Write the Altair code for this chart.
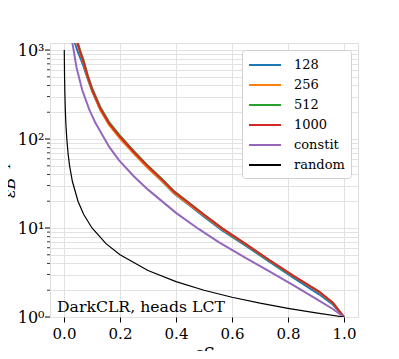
import altair as alt
import pandas as pd

series_order = ["128", "256", "512", "1000", "constit", "random"]
series_colors = ["#1f77b4", "#ff7f0e", "#2ca02c", "#d62728", "#9467bd", "#000000"]

eps_main = [0.035, 0.040, 0.048, 0.060, 0.068, 0.085, 0.101, 0.13, 0.161, 0.2, 0.25, 0.3,
            0.35, 0.393, 0.45, 0.5, 0.565, 0.65, 0.732, 0.82, 0.911, 0.96, 1.0]
rej_128 = [1500, 1170, 980, 790, 680, 470, 340, 212, 146, 103, 69, 47.5,
           33.5, 24.5, 17.8, 13.4, 9.4, 6.3, 4.2, 2.75, 1.80, 1.38, 1.0]
rej_256 = [2100, 1550, 1170, 880, 750, 485, 345, 212, 144, 101, 68, 47,
           33.8, 24.8, 18.1, 13.8, 9.7, 6.5, 4.35, 2.87, 1.90, 1.44, 1.0]
rej_512 = [2300, 1700, 1260, 940, 800, 520, 370, 228, 155, 109, 73, 50,
           35.5, 26, 18.8, 14.2, 9.9, 6.55, 4.35, 2.88, 1.92, 1.45, 1.0]
rej_1000 = [2200, 1600, 1200, 900, 770, 500, 355, 220, 150, 106, 71, 49,
            35, 25.6, 18.6, 14.1, 9.9, 6.6, 4.4, 2.9, 1.93, 1.45, 1.0]

eps_con = [0.025, 0.030, 0.045, 0.065, 0.09, 0.113, 0.161, 0.196, 0.25, 0.3, 0.4,
           0.482, 0.554, 0.65, 0.732, 0.82, 0.911, 0.96, 1.0]
rej_con = [2000, 1200, 630, 355, 215, 150, 82, 58, 38, 27, 14.8,
           9.7, 6.9, 4.6, 3.27, 2.26, 1.53, 1.23, 1.0]

eps_rand = [0.001, 0.002, 0.003, 0.005, 0.007, 0.01, 0.015, 0.02, 0.03, 0.05, 0.07, 0.1,
            0.15, 0.2, 0.3, 0.4, 0.5, 0.6, 0.7, 0.8, 0.9, 1.0]
rej_rand = [1000, 500, 333.3, 200, 142.9, 100, 66.7, 50, 33.3, 20, 14.3, 10,
            6.67, 5, 3.33, 2.5, 2, 1.667, 1.429, 1.25, 1.111, 1.0]

major_y = [1, 10, 100, 1000]
minor_y = [2, 3, 4, 5, 6, 7, 8, 9, 20, 30, 40, 50, 60, 70, 80, 90,
           200, 300, 400, 500, 600, 700, 800, 900]
x_ticks = [0.0, 0.2, 0.4, 0.6, 0.8, 1.0]

rows = []
for name, xs, ys in [("128", eps_main, rej_128), ("256", eps_main, rej_256),
                     ("512", eps_main, rej_512), ("1000", eps_main, rej_1000),
                     ("constit", eps_con, rej_con), ("random", eps_rand, rej_rand)]:
    for a, b in zip(xs, ys):
        rows.append({"series": name, "eff": a, "val": b})
df = pd.DataFrame(rows)

FONT = "DejaVu Serif"
GRID = "#e2e2e2"

xscale = alt.Scale(domain=[-0.05, 1.05], nice=False, zero=False)
yscale = alt.Scale(type="log", domain=[1, 1200], nice=False)

label_expr = ("datum.value == 1 ? '10⁰' : datum.value == 10 ? '10¹' : "
              "datum.value == 100 ? '10²' : datum.value == 1000 ? '10³' : ''")

x_axis = alt.Axis(values=x_ticks, format=".1f", grid=True, gridColor=GRID,
                  tickSize=5, tickColor="black", domain=False,
                  labelFont=FONT, labelFontSize=15, labelColor="black", labelPadding=4,
                  labelFlush=False,
                  title="εS", titleFont=FONT, titleFontStyle="italic", titleFontSize=16,
                  titleFontWeight="normal", titleColor="black",
                  titleY=28, titleBaseline="top")
y_axis = alt.Axis(values=major_y + minor_y, grid=True, gridColor=GRID, ticks=False,
                  domain=False, labelExpr=label_expr, labelOverlap=False, labelFlush=False,
                  labelFont=FONT, labelFontSize=16, labelColor="black", labelPadding=6,
                  title="εB⁻¹", titleFont=FONT, titleFontStyle="italic", titleFontSize=16,
                  titleFontWeight="normal", titleColor="black",
                  titleX=-36, titleY=137, titleBaseline="alphabetic", titleAngle=-90)

def xenc():
    return alt.X("eff:Q", scale=xscale, axis=x_axis)

def yenc(field="val"):
    return alt.Y(f"{field}:Q", scale=yscale, axis=y_axis)

color = alt.Color("series:N", scale=alt.Scale(domain=series_order, range=series_colors),
                  legend=alt.Legend(title=None, orient="top-right", offset=7,
                                    symbolType="M-1,0H3", symbolSize=256, symbolStrokeWidth=2,
                                    labelFont=FONT, labelFontSize=13, labelColor="black",
                                    labelOffset=28, rowPadding=4, padding=6,
                                    fillColor="white", strokeColor="#d0d0d0",
                                    cornerRadius=3))

layers = []
for name in series_order:
    sw = 1.2 if name == "random" else 2
    layers.append(
        alt.Chart(df).transform_filter(alt.datum.series == name)
        .mark_line(clip=True, strokeWidth=sw)
        .encode(x=xenc(), y=yenc(), color=color)
    )

tick_major = alt.Chart(pd.DataFrame({"val": major_y})).mark_rule(color="black", strokeWidth=1).encode(
    x=alt.value(-5), x2=alt.value(0), y=yenc())
tick_minor = alt.Chart(pd.DataFrame({"val": minor_y})).mark_rule(color="black", strokeWidth=0.8).encode(
    x=alt.value(-3), x2=alt.value(0), y=yenc())

note = alt.Chart(pd.DataFrame({"t": ["DarkCLR, heads LCT"]})).mark_text(
    align="left", baseline="alphabetic", font=FONT, fontSize=15.7, color="black"
).encode(x=alt.value(7), y=alt.value(269), text="t:N")

chart = alt.layer(*layers, tick_major, tick_minor, note).properties(
    width=308, height=274,
    padding={"left": 42, "top": 35, "right": 33, "bottom": 34},
    autosize=alt.AutoSizeParams(type="none"),
).configure_view(stroke="black", strokeWidth=1).configure(background="white")

chart.save("out.html", embed_options={"renderer": "svg", "actions": False})
